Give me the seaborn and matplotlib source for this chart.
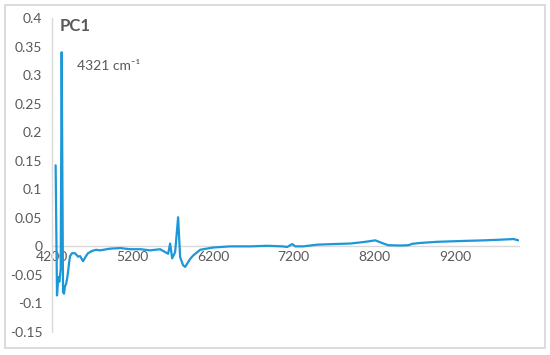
import matplotlib
matplotlib.use("Agg")
import matplotlib.pyplot as plt
import seaborn as sns
import pandas as pd
from matplotlib.patches import Rectangle

# ---- data ----
wavenumber = [4245, 4262, 4278, 4291, 4308, 4320, 4337, 4349, 4361, 4374, 4386,
              4399, 4411, 4424, 4448, 4486, 4523, 4548, 4585, 4622, 4647, 4697,
              4747, 4796, 4920, 5050, 5169, 5300, 5417, 5542, 5604, 5641, 5666,
              5691, 5728, 5765, 5790, 5827, 5852, 5914, 5952, 6039, 6200, 6411,
              6660, 6871, 7057, 7119, 7181, 7219, 7318, 7492, 7691, 7902, 8063,
              8212, 8312, 8374, 8523, 8622, 8672, 8771, 8983, 9306, 9554, 9765,
              9927, 9989]
pc1 = [0.142, -0.086, -0.054, -0.062, -0.040, 0.340, -0.080, -0.083, -0.070,
       -0.066, -0.058, -0.045, -0.030, -0.017, -0.012, -0.012, -0.018, -0.017,
       -0.026, -0.017, -0.012, -0.008, -0.006, -0.007, -0.004, -0.003, -0.005,
       -0.005, -0.007, -0.005, -0.010, -0.013, 0.005, -0.021, -0.010, 0.051,
       -0.019, -0.033, -0.036, -0.022, -0.016, -0.006, -0.002, 0.000, 0.000,
       0.001, 0.000, -0.001, 0.004, 0.000, 0.000, 0.003, 0.004, 0.005, 0.0075,
       0.0105, 0.005, 0.002, 0.0015, 0.002, 0.0045, 0.006, 0.008, 0.0095,
       0.0105, 0.0117, 0.0128, 0.0105]
x_ticks = [4200, 5200, 6200, 7200, 8200, 9200]
y_ticks = [-0.15, -0.1, -0.05, 0, 0.05, 0.1, 0.15, 0.2, 0.25, 0.3, 0.35, 0.4]
y_labels = ["-0.15", "-0.1", "-0.05", "0", "0.05", "0.1", "0.15", "0.2",
            "0.25", "0.3", "0.35", "0.4"]
title = "PC1"
annotation = "4321 cm\u207b\u00b9"

df = pd.DataFrame({"wavenumber": wavenumber, "pc1": pc1})

sns.set_theme(style="white")
plt.rcParams["font.family"] = ["Lato", "DejaVu Sans"]

fig = plt.figure(figsize=(5.5, 3.55), dpi=100)
ax = fig.add_axes([52 / 550, 1 - 332 / 355, (519 - 52) / 550, (332 - 18) / 355])

# chart border
fig.patches.append(Rectangle((5 / 550, 1 - 348 / 355), 540 / 550, 343 / 355,
                             transform=fig.transFigure, fill=False,
                             edgecolor="#d9d9d9", linewidth=1.3))

sns.lineplot(data=df, x="wavenumber", y="pc1", ax=ax, color="#1c97d7",
             linewidth=1.6, sort=False)

ax.set_xlim(4200, 9995)
ax.set_ylim(-0.15, 0.4)
ax.set_xticks(x_ticks)
ax.set_xticklabels([str(t) for t in x_ticks])
ax.set_yticks(y_ticks)
ax.set_yticklabels(y_labels)
ax.set_xlabel("")
ax.set_ylabel("")

for s in ["top", "right"]:
    ax.spines[s].set_visible(False)
ax.spines["bottom"].set_position(("data", 0))
ax.spines["bottom"].set_color("#d9d9d9")
ax.spines["left"].set_color("#d9d9d9")
ax.spines["bottom"].set_linewidth(1.0)
ax.spines["left"].set_linewidth(1.0)
ax.spines["bottom"].set_zorder(0)

ax.tick_params(axis="both", length=0, labelsize=10, colors="#595959")
ax.tick_params(axis="y", pad=7)
ax.tick_params(axis="x", pad=3)
ax.grid(False)

ax.text(60 / 550, 1 - 26 / 355, title, transform=fig.transFigure,
        fontsize=12, fontweight="bold", color="#595959", va="center", ha="left")
ax.text(77 / 550, 1 - 66 / 355, annotation, transform=fig.transFigure,
        fontsize=10, color="#595959", va="center", ha="left")

fig.savefig("out.png", dpi=100)
